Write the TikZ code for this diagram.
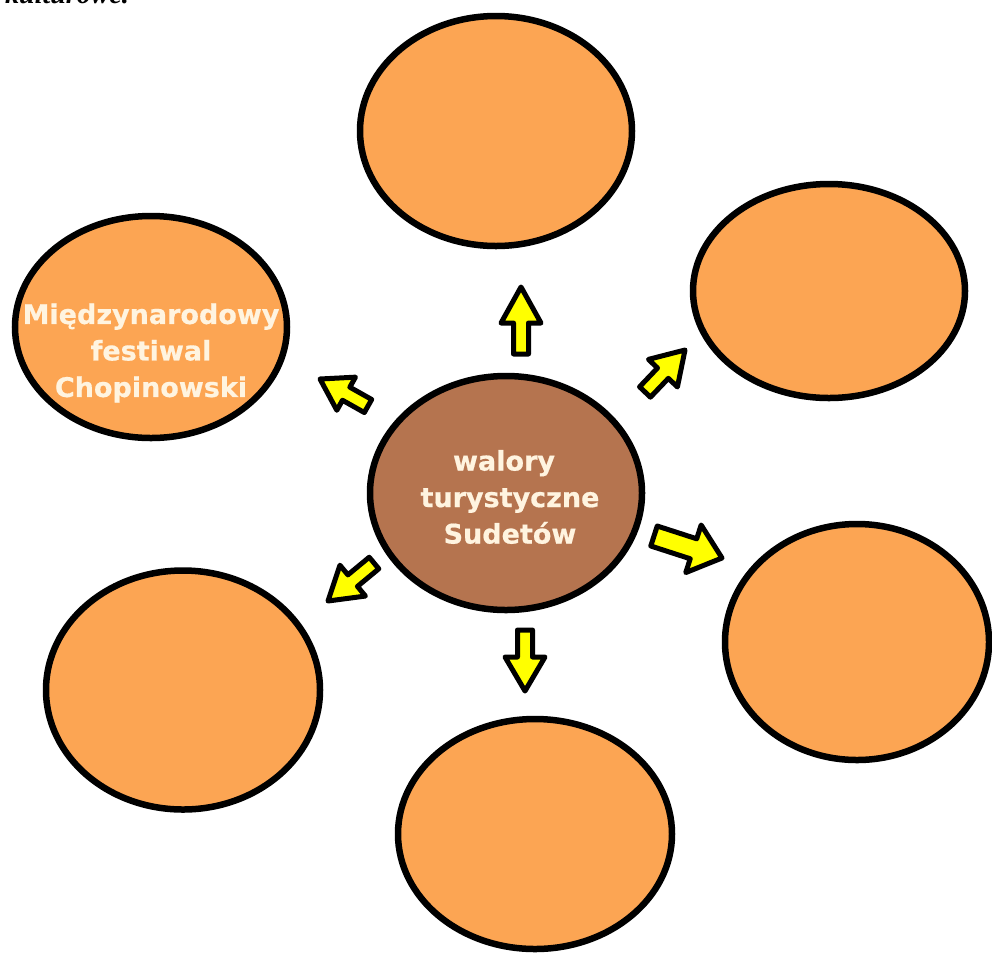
\documentclass[tikz,border=0pt]{standalone}
\usepackage{fontspec}
\setmainfont{DejaVu Sans}
\newfontfamily\serifbi{Liberation Serif}
\newfontfamily\lblfont{DejaVu Sans Bold}[FakeBold=0.6]
\usetikzlibrary{shapes.geometric,calc}
\definecolor{orangefill}{HTML}{FCA553}
\definecolor{brownfill}{HTML}{B5744F}
\definecolor{arrowyellow}{HTML}{FFFF00}
\definecolor{textcream}{HTML}{FFF4E0}
\tikzset{
  bubble/.style={ellipse, draw=black, line width=6.5pt, fill=orangefill, inner sep=0pt},
  hub/.style={bubble, fill=brownfill},
  lbl/.style={text=textcream, font=\lblfont\fontsize{27}{36.5}\selectfont, align=center, inner sep=0pt},
  barrow/.style={draw=black, fill=arrowyellow, line width=5pt, line join=round},
}
\newcommand\blockarrow[6]{%
  \coordinate (#1h) at ($(#3)!#4!(#2)$);
  \draw[barrow] ($(#2)!#5!90:(#3)$) -- ($(#1h)!#5!90:(#3)$) -- ($(#1h)!#6!90:(#3)$) -- (#3)
    -- ($(#1h)!#6!-90:(#3)$) -- ($(#1h)!#5!-90:(#3)$) -- ($(#2)!#5!-90:(#3)$) -- cycle;
}
\begin{document}
\begin{tikzpicture}[x=1pt,y=-1pt]
\path[use as bounding box, fill=white] (0,0) rectangle (992,954);
\clip (0,0) rectangle (992,954);
\node[anchor=base west, font=\serifbi\bfseries\itshape\fontsize{28}{30}\selectfont, inner sep=0pt] (kult) at (5,3) {kulturowe.};
% bubbles
\node[bubble, minimum width=272pt, minimum height=230pt] (top) at (496,131) {};
\node[bubble, minimum width=272pt, minimum height=214pt] (ur) at (829,291) {};
\node[bubble, minimum width=272pt, minimum height=222pt] (ul) at (151,327) {};
\node[hub, minimum width=272pt, minimum height=234pt] (hub) at (506,493) {};
\node[bubble, minimum width=264pt, minimum height=236pt] (lr) at (857,642) {};
\node[bubble, minimum width=274pt, minimum height=239pt] (ll) at (183,690) {};
\node[bubble, minimum width=274pt, minimum height=230pt] (bot) at (535,834) {};
% labels
\node[lbl] (ultext) at ($(ul)+(0,26)$) {Międzynarodowy\\festiwal\hspace*{34pt}\\Chopinowski};
\node[lbl] (hubtext) at ($(hub)+(4,4)$) {walory\hspace*{12pt}\\turystyczne\\Sudetów};
% arrows
\coordinate (a1t) at (521,354); \coordinate (a1p) at (521,287);
\coordinate (a2t) at (645,392); \coordinate (a2p) at (685,350);
\coordinate (a3t) at (368,406); \coordinate (a3p) at (320,379);
\coordinate (a4t) at (374,563); \coordinate (a4p) at (328,601);
\coordinate (a5t) at (525,630); \coordinate (a5p) at (525,691);
\coordinate (a6t) at (654,536); \coordinate (a6p) at (722,558);
\blockarrow{a1}{a1t}{a1p}{36pt}{7.5pt}{20pt}
\blockarrow{a2}{a2t}{a2p}{32pt}{7.5pt}{20pt}
\blockarrow{a3}{a3t}{a3p}{30pt}{7.5pt}{19pt}
\blockarrow{a4}{a4t}{a4p}{32pt}{7.5pt}{20pt}
\blockarrow{a5}{a5t}{a5p}{34pt}{7.5pt}{20pt}
\blockarrow{a6}{a6t}{a6p}{30pt}{10.5pt}{25pt}
\end{tikzpicture}
\end{document}
